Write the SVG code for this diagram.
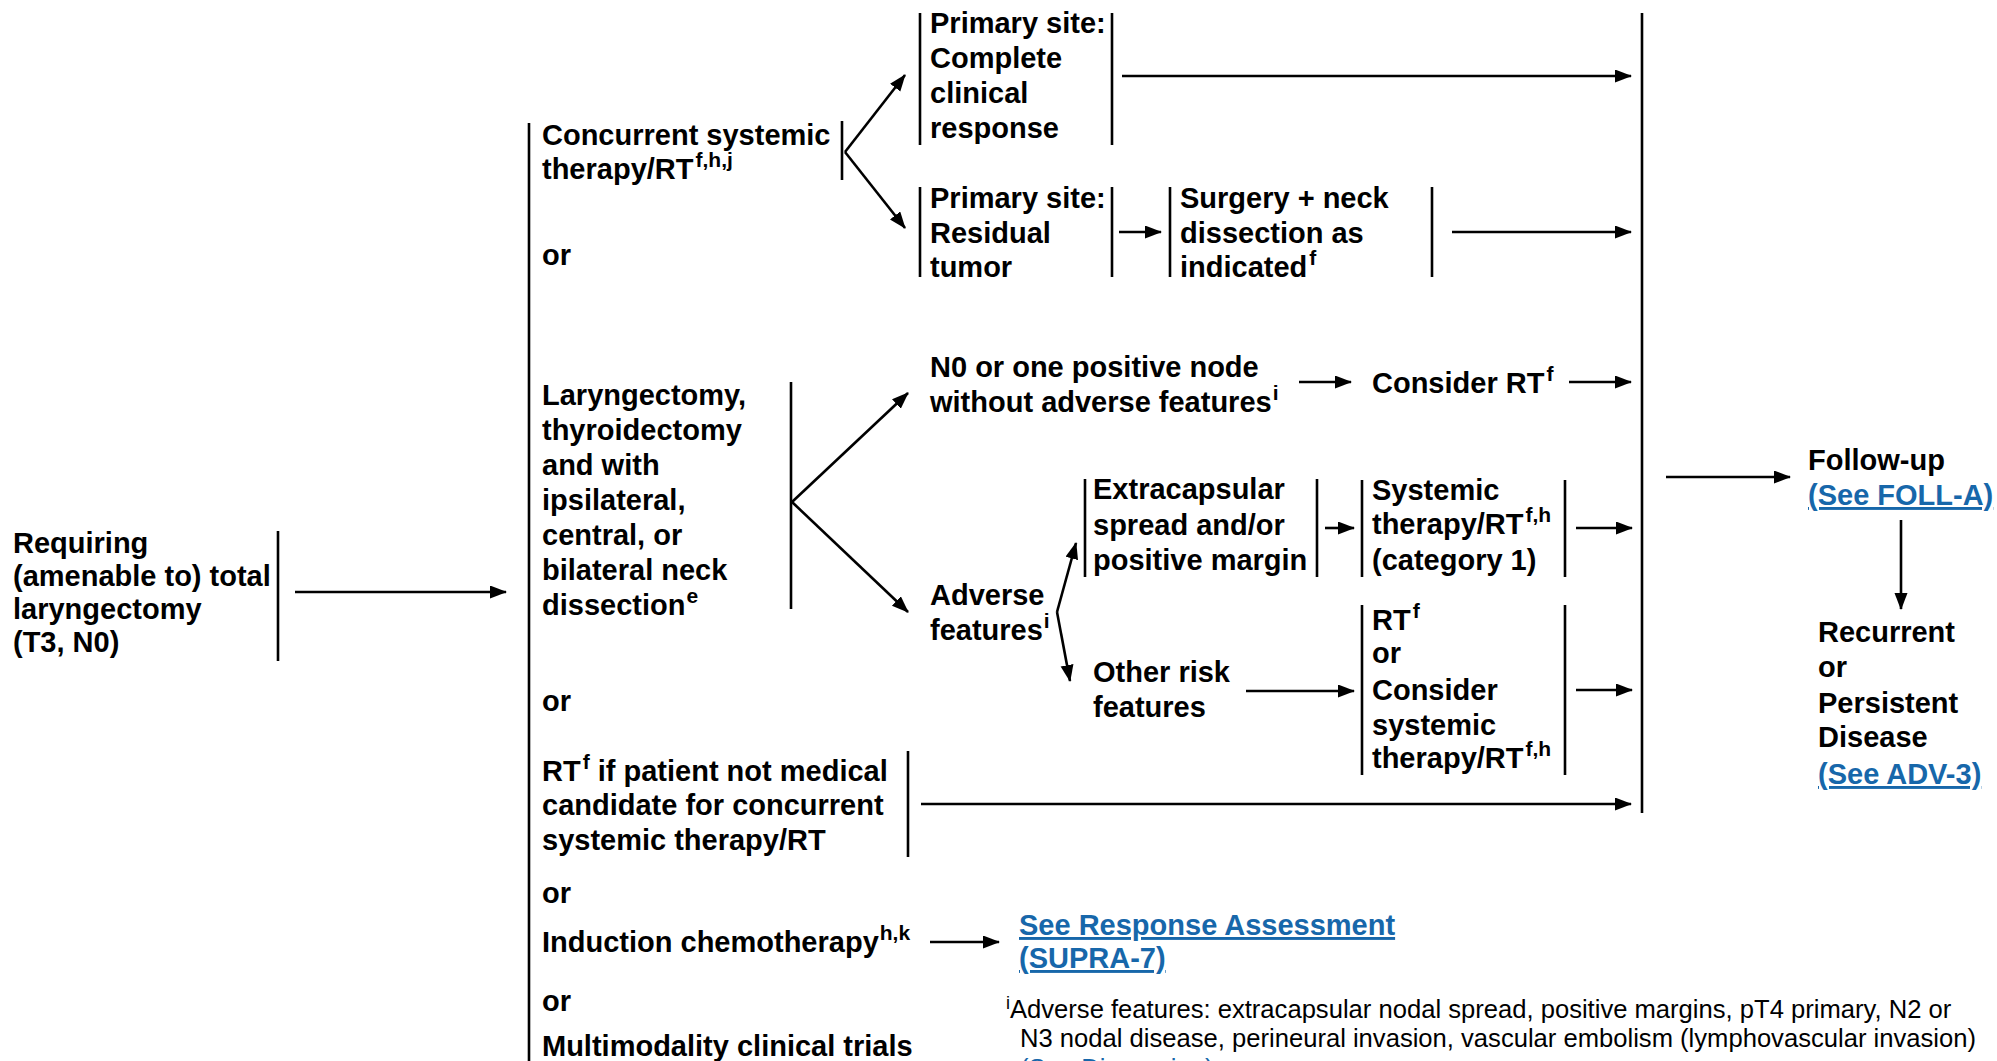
<svg xmlns="http://www.w3.org/2000/svg" width="1997" height="1061" viewBox="0 0 1997 1061">
<defs>
<style>
.t{font-family:"Liberation Sans",Arial,Helvetica,sans-serif;font-weight:bold;font-size:29px;fill:#000}
.s{font-size:21px}
.ln{stroke:#000;stroke-width:2.6;fill:none}
.ar{stroke:#000;stroke-width:2.6;fill:none;marker-end:url(#ah)}
.lk{fill:#1767AA;text-decoration:underline}
.fn{font-family:"Liberation Sans",Arial,Helvetica,sans-serif;font-weight:normal;font-size:25.6px;fill:#000}
</style>
<marker id="ah" markerUnits="userSpaceOnUse" markerWidth="18" markerHeight="14" refX="16" refY="6.5" orient="auto">
<path d="M0,0 L17,6.5 L0,13 z" fill="#000"/>
</marker>
</defs>
<rect width="1997" height="1061" fill="#fff"/>

<g id="connectors">
<line class="ln" x1="529" y1="123" x2="529" y2="1061"/>
<line class="ar" x1="295" y1="592" x2="506" y2="592"/>
<line class="ar" x1="845" y1="152" x2="905" y2="75"/>
<line class="ar" x1="845" y1="152" x2="905" y2="228"/>
<line class="ar" x1="1122" y1="76" x2="1631" y2="76"/>
<line class="ar" x1="1119" y1="232" x2="1161" y2="232"/>
<line class="ar" x1="1452" y1="232" x2="1631" y2="232"/>
<line class="ar" x1="792" y1="502" x2="908" y2="393"/>
<line class="ar" x1="792" y1="502" x2="908" y2="612"/>
<line class="ar" x1="1299" y1="382" x2="1351" y2="382"/>
<line class="ar" x1="1569" y1="382" x2="1631" y2="382"/>
<line class="ar" x1="1057" y1="612" x2="1076" y2="543"/>
<line class="ar" x1="1057" y1="612" x2="1070" y2="681"/>
<line class="ar" x1="1325" y1="528" x2="1354" y2="528"/>
<line class="ar" x1="1576" y1="528" x2="1632" y2="528"/>
<line class="ar" x1="1246" y1="691" x2="1354" y2="691"/>
<line class="ar" x1="1576" y1="690" x2="1632" y2="690"/>
<line class="ar" x1="921" y1="804" x2="1631" y2="804"/>
<line class="ar" x1="930" y1="942" x2="999" y2="942"/>
<line class="ar" x1="1666" y1="477" x2="1790" y2="477"/>
<line class="ar" x1="1901" y1="520" x2="1901" y2="609"/>
</g>

<g id="n-start">
<text class="t" x="13" y="553">Requiring</text>
<text class="t" x="13" y="586">(amenable to) total</text>
<text class="t" x="13" y="619">laryngectomy</text>
<text class="t" x="13" y="652">(T3, N0)</text>
<line class="ln" x1="278" y1="531" x2="278" y2="661"/>
</g>

<g id="n-concurrent">
<text class="t" x="542" y="145">Concurrent systemic</text>
<text class="t" x="542" y="179">therapy/RT<tspan class="s" dx="2" dy="-12">f,h,j</tspan></text>
<line class="ln" x1="842" y1="121" x2="842" y2="180"/>
</g>

<g id="n-complete">
<line class="ln" x1="920" y1="13" x2="920" y2="145"/>
<text class="t" x="930" y="33">Primary site:</text>
<text class="t" x="930" y="68">Complete</text>
<text class="t" x="930" y="103">clinical</text>
<text class="t" x="930" y="138">response</text>
<line class="ln" x1="1112" y1="13" x2="1112" y2="145"/>
</g>

<g id="n-residual">
<line class="ln" x1="920" y1="187" x2="920" y2="277"/>
<text class="t" x="930" y="208">Primary site:</text>
<text class="t" x="930" y="243">Residual</text>
<text class="t" x="930" y="277">tumor</text>
<line class="ln" x1="1112" y1="187" x2="1112" y2="277"/>
</g>

<g id="n-surgery">
<line class="ln" x1="1170" y1="187" x2="1170" y2="277"/>
<text class="t" x="1180" y="208">Surgery + neck</text>
<text class="t" x="1180" y="243">dissection as</text>
<text class="t" x="1180" y="277">indicated<tspan class="s" dx="2" dy="-12">f</tspan></text>
<line class="ln" x1="1432" y1="187" x2="1432" y2="277"/>
</g>

<g id="n-laryngectomy">
<text class="t" x="542" y="405">Laryngectomy,</text>
<text class="t" x="542" y="440">thyroidectomy</text>
<text class="t" x="542" y="475">and with</text>
<text class="t" x="542" y="510">ipsilateral,</text>
<text class="t" x="542" y="545">central, or</text>
<text class="t" x="542" y="580">bilateral neck</text>
<text class="t" x="542" y="615">dissection<tspan class="s" dx="1" dy="-12">e</tspan></text>
<line class="ln" x1="791" y1="382" x2="791" y2="609"/>
</g>

<g id="n-n0">
<text class="t" x="930" y="377">N0 or one positive node</text>
<text class="t" x="930" y="412">without adverse features<tspan class="s" dx="1" dy="-12">i</tspan></text>
</g>

<g id="n-consider-rt">
<text class="t" x="1372" y="393">Consider RT<tspan class="s" dx="2" dy="-12">f</tspan></text>
</g>

<g id="n-adverse">
<text class="t" x="930" y="605">Adverse</text>
<text class="t" x="930" y="640">features<tspan class="s" dx="1" dy="-12">i</tspan></text>
</g>

<g id="n-extracapsular">
<line class="ln" x1="1085" y1="479" x2="1085" y2="577"/>
<text class="t" x="1093" y="499">Extracapsular</text>
<text class="t" x="1093" y="535">spread and/or</text>
<text class="t" x="1093" y="570">positive margin</text>
<line class="ln" x1="1317" y1="479" x2="1317" y2="577"/>
</g>

<g id="n-systemic">
<line class="ln" x1="1362" y1="480" x2="1362" y2="577"/>
<text class="t" x="1372" y="500">Systemic</text>
<text class="t" x="1372" y="534">therapy/RT<tspan class="s" dx="2" dy="-12">f,h</tspan></text>
<text class="t" x="1372" y="570">(category 1)</text>
<line class="ln" x1="1565" y1="480" x2="1565" y2="577"/>
</g>

<g id="n-other">
<text class="t" x="1093" y="682">Other risk</text>
<text class="t" x="1093" y="717">features</text>
</g>

<g id="n-rt-or">
<line class="ln" x1="1362" y1="605" x2="1362" y2="775"/>
<text class="t" x="1372" y="630">RT<tspan class="s" dx="2" dy="-12">f</tspan></text>
<text class="t" x="1372" y="663">or</text>
<text class="t" x="1372" y="700">Consider</text>
<text class="t" x="1372" y="735">systemic</text>
<text class="t" x="1372" y="768">therapy/RT<tspan class="s" dx="2" dy="-12">f,h</tspan></text>
<line class="ln" x1="1565" y1="605" x2="1565" y2="775"/>
</g>

<g id="n-rt-only">
<text class="t" x="542" y="781">RT<tspan class="s" dx="2" dy="-12">f</tspan><tspan dy="12"> if patient not medical</tspan></text>
<text class="t" x="542" y="815">candidate for concurrent</text>
<text class="t" x="542" y="850">systemic therapy/RT</text>
<line class="ln" x1="908" y1="751" x2="908" y2="857"/>
</g>

<g id="n-induction">
<text class="t" x="542" y="952">Induction chemotherapy<tspan class="s" dx="1" dy="-12">h,k</tspan></text>
</g>

<g id="n-response">
<text class="t lk" x="1019" y="935">See Response Assessment</text>
<text class="t lk" x="1019" y="968">(SUPRA-7)</text>
</g>

<g id="n-multimodality">
<text class="t" x="542" y="1056">Multimodality clinical trials</text>
</g>

<g id="or-labels">
<text class="t" x="542" y="265">or</text>
<text class="t" x="542" y="711">or</text>
<text class="t" x="542" y="903">or</text>
<text class="t" x="542" y="1011">or</text>
</g>

<g id="n-merge">
<line class="ln" x1="1642" y1="13" x2="1642" y2="813"/>
</g>

<g id="n-followup">
<text class="t" x="1808" y="470">Follow-up</text>
<text class="t lk" x="1808" y="505">(See FOLL-A)</text>
</g>

<g id="n-recurrent">
<text class="t" x="1818" y="642">Recurrent</text>
<text class="t" x="1818" y="677">or</text>
<text class="t" x="1818" y="713">Persistent</text>
<text class="t" x="1818" y="747">Disease</text>
<text class="t lk" x="1818" y="784">(See ADV-3)</text>
</g>

<g id="footnote">
<text class="fn" x="1006" y="1018"><tspan font-size="18" dy="-9">i</tspan><tspan dy="9">Adverse features: extracapsular nodal spread, positive margins, pT4 primary, N2 or</tspan></text>
<text class="fn" x="1020" y="1047">N3 nodal disease, perineural invasion, vascular embolism (lymphovascular invasion)</text>
<text class="fn" x="1020" y="1077" style="fill:#1767AA;text-decoration:underline">(See Discussion)</text>
</g>
</svg>
